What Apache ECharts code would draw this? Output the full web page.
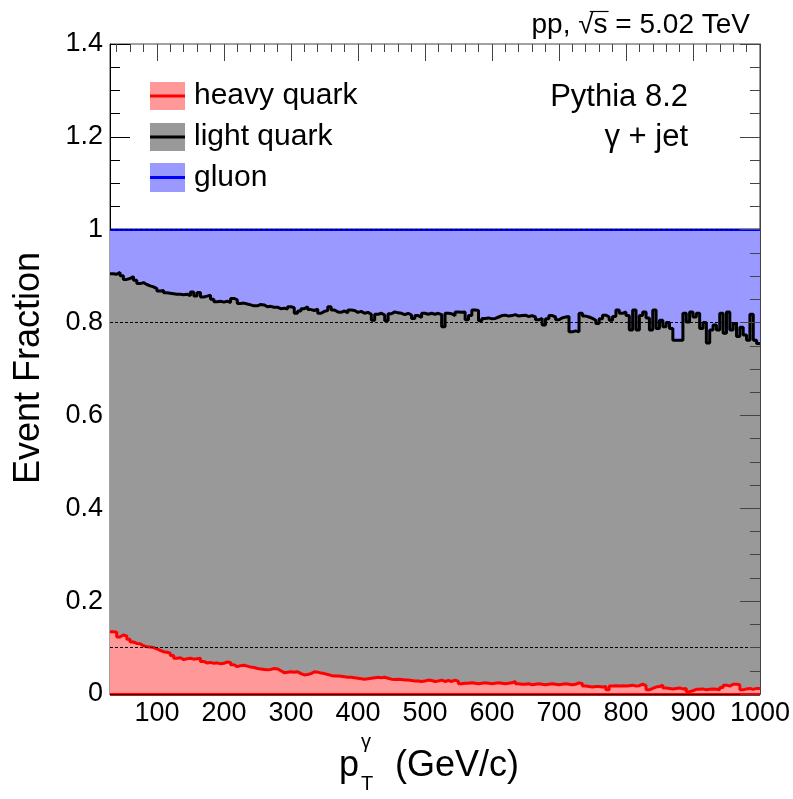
<!DOCTYPE html>
<html><head><meta charset="utf-8">
<script src="https://cdn.jsdelivr.net/npm/echarts@6/dist/echarts.min.js"></script>
<style>html,body{margin:0;padding:0;background:#fff}#c{width:793px;height:799px}</style>
</head><body><div id="c"></div>
<script>
// histogram binning (GeV/c)
const binStart = 30, binWidth = 5, xMax = 1000;
// cumulative fraction heavy + light quark (black line)
const lightQuarkTop = [
.905,.904,.908,.901,.893,.895,.899,.891,.884,.886,.882,.879,.877,.873,.868,.869,.864,.863,.862,.861,
.861,.860,.861,.858,.866,.857,.865,.855,.857,.859,.850,.845,.846,.844,.846,.843,.852,.849,.841,.842,
.840,.838,.836,.836,.839,.838,.834,.835,.833,.833,.830,.831,.829,.834,.832,.820,.825,.830,.834,.828,
.826,.829,.820,.824,.826,.834,.827,.823,.822,.825,.821,.827,.826,.822,.824,.820,.822,.818,.805,.818,
.820,.816,.804,.819,.823,.821,.820,.817,.820,.816,.809,.815,.811,.820,.818,.820,.818,.820,.817,.791,
.820,.819,.815,.823,.822,.823,.806,.815,.827,.826,.804,.809,.810,.808,.809,.812,.815,.816,.814,.815,
.817,.814,.815,.816,.813,.815,.812,.806,.809,.795,.808,.815,.812,.806,.810,.812,.813,.780,.782,.780,
.820,.814,.812,.809,.805,.798,.808,.816,.812,.805,.813,.827,.820,.823,.815,.784,.827,.784,.815,.823,
.810,.784,.827,.787,.805,.791,.800,.787,.762,.762,.762,.820,.801,.823,.812,.820,.787,.800,.756,.784,
.795,.784,.820,.777,.823,.784,.798,.770,.790,.773,.762,.818,.762,.755
];
// heavy quark fraction (red line)
const heavyQuark = [
.134,.133,.123,.127,.125,.118,.112,.109,.108,.104,.102,.101,.100,.097,.094,.091,.090,.088,.083,.077,
.078,.074,.076,.077,.075,.076,.077,.070,.067,.068,.066,.067,.065,.066,.069,.068,.063,.059,.061,.062,
.060,.058,.057,.055,.054,.053,.052,.053,.055,.054,.050,.046,.047,.048,.047,.048,.044,.041,.042,.044,
.048,.047,.045,.044,.042,.040,.039,.039,.038,.037,.036,.036,.035,.034,.033,.032,.033,.034,.035,.036,
.035,.036,.034,.032,.031,.032,.031,.030,.030,.029,.028,.028,.027,.028,.030,.029,.027,.028,.030,.027,
.029,.027,.030,.027,.022,.023,.023,.024,.023,.022,.023,.024,.023,.022,.023,.024,.023,.022,.023,.024,
.027,.022,.021,.021,.022,.020,.021,.022,.021,.020,.021,.022,.021,.020,.021,.022,.021,.020,.021,.024,
.022,.017,.016,.015,.016,.016,.015,.016,.009,.017,.018,.017,.018,.017,.018,.019,.017,.018,.021,.018,
.009,.012,.015,.016,.019,.013,.012,.011,.012,.013,.011,.012,.005,.007,.010,.010,.011,.009,.010,.011,
.010,.009,.014,.019,.017,.021,.021,.020,.009,.011,.012,.010,.012,.012
];
// total (heavy + light + gluon)
const gluonTop = 1.0;
const refLines = [0.1, 0.8, 1.0];
const yMax = 1.4;
const xTicks = [100,200,300,400,500,600,700,800,900,1000];
const xMinorTicks = [40,60,80,120,140,160,180,220,240,260,280,320,340,360,380,420,440,460,480,520,540,560,580,620,640,660,680,720,740,760,780,820,840,860,880,920,940,960,980];
const legendNames = ['heavy quark','light quark','gluon'];
const energyText = 'pp, \u221as = 5.02 TeV';

const FONT = '"Liberation Sans", Arial, Helvetica, sans-serif';
function steps(arr){
  const d = arr.map((v,i)=>[binStart + i*binWidth, v]);
  d.push([xMax, arr[arr.length-1]]);
  return d;
}
const gridBox = {left:110, right:33, top:44, bottom:105, containLabel:false};
const plotH = 799 - gridBox.top - gridBox.bottom;
const majorTickLen = 17 * yMax / plotH;   // 17 px expressed on the y scale

// overline over "s" in sqrt(s), positioned from text metrics
const ctx = document.createElement('canvas').getContext('2d');
ctx.font = '28px ' + FONT;
const eRight = 750;
const eStart = eRight - ctx.measureText(energyText).width;
const wPre = ctx.measureText('pp, ').width;
const wRad = ctx.measureText('\u221a').width;
const wS = ctx.measureText('s').width;
const olX1 = eStart + wPre + wRad*0.75, olX2 = eStart + wPre + wRad + wS + 1;

const chart = echarts.init(document.getElementById('c'), null, {renderer:'canvas'});
const axCommon = {type:'value', min:binStart, max:xMax, splitLine:{show:false}};
const option = {
  animation:false,
  backgroundColor:'#fff',
  grid:Object.assign({show:true, borderColor:'#444', borderWidth:1, backgroundColor:'transparent'}, gridBox),
  xAxis:[
    Object.assign({}, axCommon, {position:'bottom', z:10,
      axisLine:{show:true, onZero:false, lineStyle:{color:'#000', width:1}},
      axisTick:{show:false},
      axisLabel:{show:true, customValues:xTicks.slice(), fontSize:27, color:'#000', fontFamily:FONT, margin:6, formatter:v=>String(v)}}),
    Object.assign({}, axCommon, {position:'top', z:10,
      axisLine:{show:false, onZero:false},
      axisTick:{show:true, inside:true, length:8, customValues:xMinorTicks.slice(), lineStyle:{color:'#444', width:1}},
      axisLabel:{show:false}})
  ],
  yAxis:[
    {type:'value', min:0, max:yMax, interval:0.2, position:'left', z:0,
      axisLine:{show:true, onZero:false, lineStyle:{color:'#000', width:1}},
      axisTick:{show:true, inside:true, length:20, lineStyle:{color:'#000'}},
      minorTick:{show:true, splitNumber:4, length:10, lineStyle:{color:'#000'}},
      splitLine:{show:false}, minorSplitLine:{show:false},
      axisLabel:{fontSize:27, color:'#000', fontFamily:FONT, margin:7}},
    {type:'value', min:0, max:yMax, interval:0.2, position:'right', z:10,
      axisLine:{show:true, onZero:false, lineStyle:{color:'#444', width:1}},
      axisTick:{show:true, inside:true, length:20, lineStyle:{color:'#444'}},
      minorTick:{show:true, splitNumber:4, length:10, lineStyle:{color:'#444'}},
      splitLine:{show:false}, minorSplitLine:{show:false},
      axisLabel:{show:false}}
  ],
  series:[
    {name:'gluon', type:'line', step:'end', xAxisIndex:0, yAxisIndex:0, z:1, symbol:'none',
      data:[[binStart, gluonTop],[xMax, gluonTop]],
      lineStyle:{color:'#0000ff', width:2.5}, areaStyle:{color:'#9999ff', opacity:1}},
    {name:'light quark', type:'line', step:'end', xAxisIndex:0, yAxisIndex:0, z:2, symbol:'none',
      data:steps(lightQuarkTop),
      lineStyle:{color:'#000', width:3}, areaStyle:{color:'#999999', opacity:1}},
    {name:'ref', type:'line', xAxisIndex:0, yAxisIndex:0, z:3, data:[], symbol:'none',
      markLine:{silent:true, symbol:'none', label:{show:false}, animation:false,
        lineStyle:{type:[3,2], color:'#000', width:1},
        data:refLines.map(v=>({yAxis:v}))}},
    {name:'heavy quark', type:'line', step:'end', xAxisIndex:0, yAxisIndex:0, z:4, symbol:'none',
      data:steps(heavyQuark),
      lineStyle:{color:'#ff0000', width:3}, areaStyle:{color:'#ff9999', opacity:1},
      markLine:{silent:true, symbol:'none', label:{show:false}, animation:false,
        lineStyle:{type:'solid', color:'#ff0000', width:3}, data:[{yAxis:0}]}},
    // top-frame major ticks, placed on the axis scales
    {name:'topTicks', type:'line', xAxisIndex:0, yAxisIndex:0, z:11, data:[], symbol:'none',
      markLine:{silent:true, symbol:'none', label:{show:false}, animation:false,
        lineStyle:{type:'solid', color:'#444', width:1},
        data:xTicks.map(v=>[{coord:[v, yMax]},{coord:[v, yMax - majorTickLen]}])}}
  ],
  graphic:[
    // legend
    {type:'rect', shape:{x:150,y:82,width:35,height:28}, style:{fill:'#ff9999'}, z:20},
    {type:'line', shape:{x1:150,y1:96,x2:185,y2:96}, style:{stroke:'#ff0000', lineWidth:3}, z:21},
    {type:'rect', shape:{x:150,y:123,width:35,height:28}, style:{fill:'#999999'}, z:20},
    {type:'line', shape:{x1:150,y1:137,x2:185,y2:137}, style:{stroke:'#000', lineWidth:3}, z:21},
    {type:'rect', shape:{x:150,y:163,width:35,height:29}, style:{fill:'#9999ff'}, z:20},
    {type:'line', shape:{x1:150,y1:177.5,x2:185,y2:177.5}, style:{stroke:'#0000ff', lineWidth:3}, z:21},
    {type:'text', z:21, style:{x:194, y:96, text:legendNames[0], font:'30px '+FONT, fill:'#000', align:'left', verticalAlign:'middle', textAlign:'left', textVerticalAlign:'middle'}},
    {type:'text', z:21, style:{x:194, y:137, text:legendNames[1], font:'30px '+FONT, fill:'#000', align:'left', verticalAlign:'middle', textAlign:'left', textVerticalAlign:'middle'}},
    {type:'text', z:21, style:{x:194, y:178, text:legendNames[2], font:'30px '+FONT, fill:'#000', align:'left', verticalAlign:'middle', textAlign:'left', textVerticalAlign:'middle'}},
    // annotations
    {type:'text', z:21, style:{x:688, y:97, text:'Pythia 8.2', font:'31px '+FONT, fill:'#000', align:'right', verticalAlign:'middle', textAlign:'right', textVerticalAlign:'middle'}},
    {type:'text', z:21, style:{x:688, y:137, text:'\u03b3 + jet', font:'31px '+FONT, fill:'#000', align:'right', verticalAlign:'middle', textAlign:'right', textVerticalAlign:'middle'}},
    {type:'text', z:21, style:{x:eRight, y:25, text:energyText, font:'28px '+FONT, fill:'#000', align:'right', verticalAlign:'middle', textAlign:'right', textVerticalAlign:'middle'}},
    {type:'line', z:21, shape:{x1:olX1,y1:11.5,x2:olX2,y2:11.5}, style:{stroke:'#000', lineWidth:1.2}},
    // axis titles
    {type:'text', z:21, x:29, y:368, rotation:Math.PI/2, style:{x:0, y:0, text:'Event Fraction', font:'36px '+FONT, fill:'#000', align:'center', verticalAlign:'middle', textAlign:'center', textVerticalAlign:'middle'}},
    {type:'text', z:21, style:{x:339, y:766, text:'p', font:'36px '+FONT, fill:'#000', align:'left', verticalAlign:'middle', textAlign:'left', textVerticalAlign:'middle'}},
    {type:'text', z:21, style:{x:361, y:742, text:'\u03b3', font:'20px '+FONT, fill:'#000', align:'left', verticalAlign:'middle', textAlign:'left', textVerticalAlign:'middle'}},
    {type:'text', z:21, style:{x:361, y:784, text:'T', font:'20px '+FONT, fill:'#000', align:'left', verticalAlign:'middle', textAlign:'left', textVerticalAlign:'middle'}},
    {type:'text', z:21, style:{x:395, y:766, text:'(GeV/c)', font:'36px '+FONT, fill:'#000', align:'left', verticalAlign:'middle', textAlign:'left', textVerticalAlign:'middle'}}
  ]
};
chart.setOption(option);
</script>
</body></html>
